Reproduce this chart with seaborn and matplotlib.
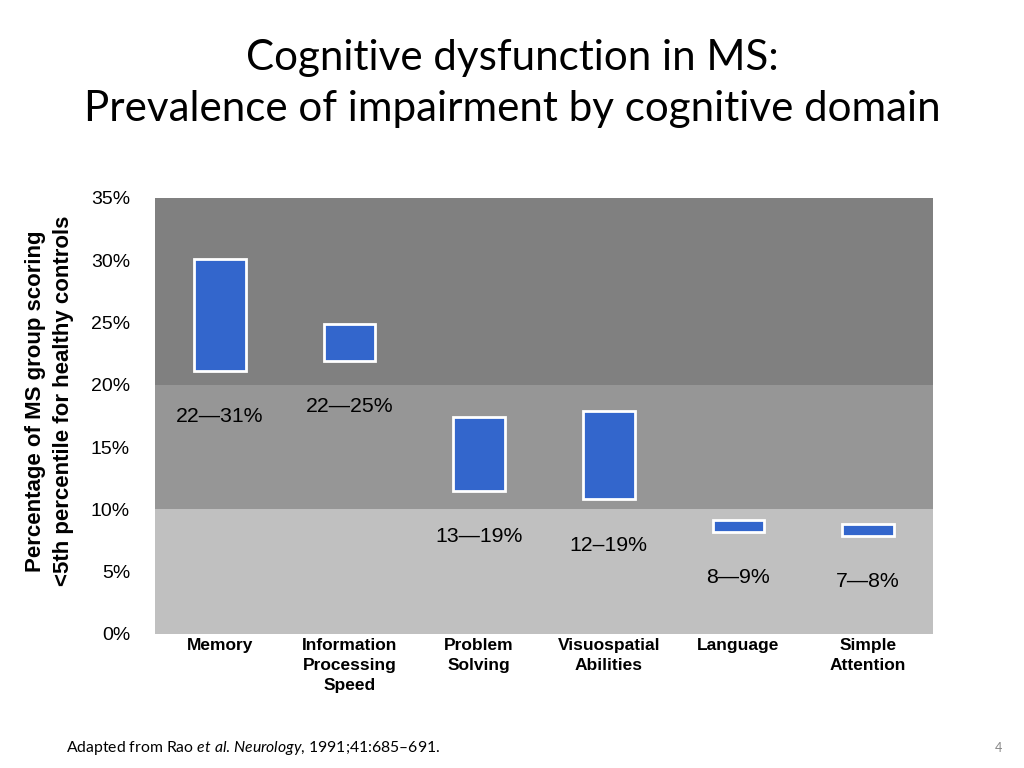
import numpy as np
import pandas as pd
import matplotlib
matplotlib.use('Agg')
import matplotlib.pyplot as plt
import seaborn as sns

# domains and the low/high prevalence (%)
domains = ['Memory', 'Information\nProcessing\nSpeed', 'Problem\nSolving',
           'Visuospatial\nAbilities', 'Language', 'Simple\nAttention']
low = [21.1, 21.9, 11.5, 10.8, 8.2, 7.9]
high = [30.1, 24.9, 17.4, 17.9, 9.15, 8.8]
range_labels = ['22\u201431%', '22\u201425%', '13\u201419%', '12\u201319%', '8\u20149%', '7\u20148%']

# shaded bands behind the bars
bands = [(20, 35, '#808080'), (10, 20, '#969696'), (0, 10, '#c0c0c0')]
yticks = [0, 5, 10, 15, 20, 25, 30, 35]

df = pd.DataFrame({'domain': domains, 'low': low, 'high': high})
df['span'] = df['high'] - df['low']

sns.set_theme(style='white')
plt.rcParams['font.family'] = ['Liberation Sans', 'DejaVu Sans']
plt.rcParams['text.color'] = 'black'
plt.rcParams['xtick.color'] = 'black'
plt.rcParams['ytick.color'] = 'black'
plt.rcParams['mathtext.fontset'] = 'custom'
plt.rcParams['mathtext.it'] = 'Lato:italic'
plt.rcParams['mathtext.rm'] = 'Lato'

fig = plt.figure(figsize=(10.24, 7.68), dpi=100)
ax = fig.add_axes([0.1514, 0.1745, 0.7597, 0.5677])

for lo, hi, c in bands:
    ax.axhspan(lo, hi, color=c, zorder=0, lw=0)

sns.barplot(data=df, x='domain', y='span', bottom=df['low'].values, width=0.4,
            color='#3366cc', saturation=1, edgecolor='white', linewidth=2,
            ax=ax, zorder=2)

for i, (lo, txt) in enumerate(zip(low, range_labels)):
    ax.annotate(txt, xy=(i, lo), xytext=(0, -26), textcoords='offset points',
                ha='center', va='top', fontsize=15.3, color='black')

ax.set_ylim(0, 35)
ax.set_xlim(-0.5, len(domains) - 0.5)
ax.set_yticks(yticks)
ax.set_yticklabels([f'{t}%' for t in yticks], fontsize=14)
ax.tick_params(axis='y', length=0, pad=18)
ax.tick_params(axis='x', length=0, pad=3)
ax.set_xticks(range(len(domains)))
ax.set_xticklabels(domains, fontsize=12.5, fontweight='bold', linespacing=1.4)
ax.set_xlabel('')
ax.set_ylabel('')
for s in ax.spines.values():
    s.set_visible(False)

fig.text(0.048, 0.478, 'Percentage of MS group scoring\n<5th percentile for healthy controls',
         rotation=90, ha='center', va='center', fontsize=16, fontweight='bold',
         linespacing=1.45, multialignment='center')

fig.text(0.5, 0.925, 'Cognitive dysfunction in MS:', ha='center', va='center',
         fontsize=30.3, family='Lato')
fig.text(0.5, 0.858, 'Prevalence of impairment by cognitive domain', ha='center', va='center',
         fontsize=30.3, family='Lato')

fig.text(0.064, 0.021, 'Adapted from Rao $\\mathit{et\\ al}$. $\\mathit{Neurology}$, 1991;41:685\u2013691.',
         ha='left', va='baseline', fontsize=11.3, family='Lato')
fig.text(0.979, 0.021, '4', ha='right', va='baseline', fontsize=9, color='#888888', family='Lato')

fig.savefig('out.png', dpi=100)
